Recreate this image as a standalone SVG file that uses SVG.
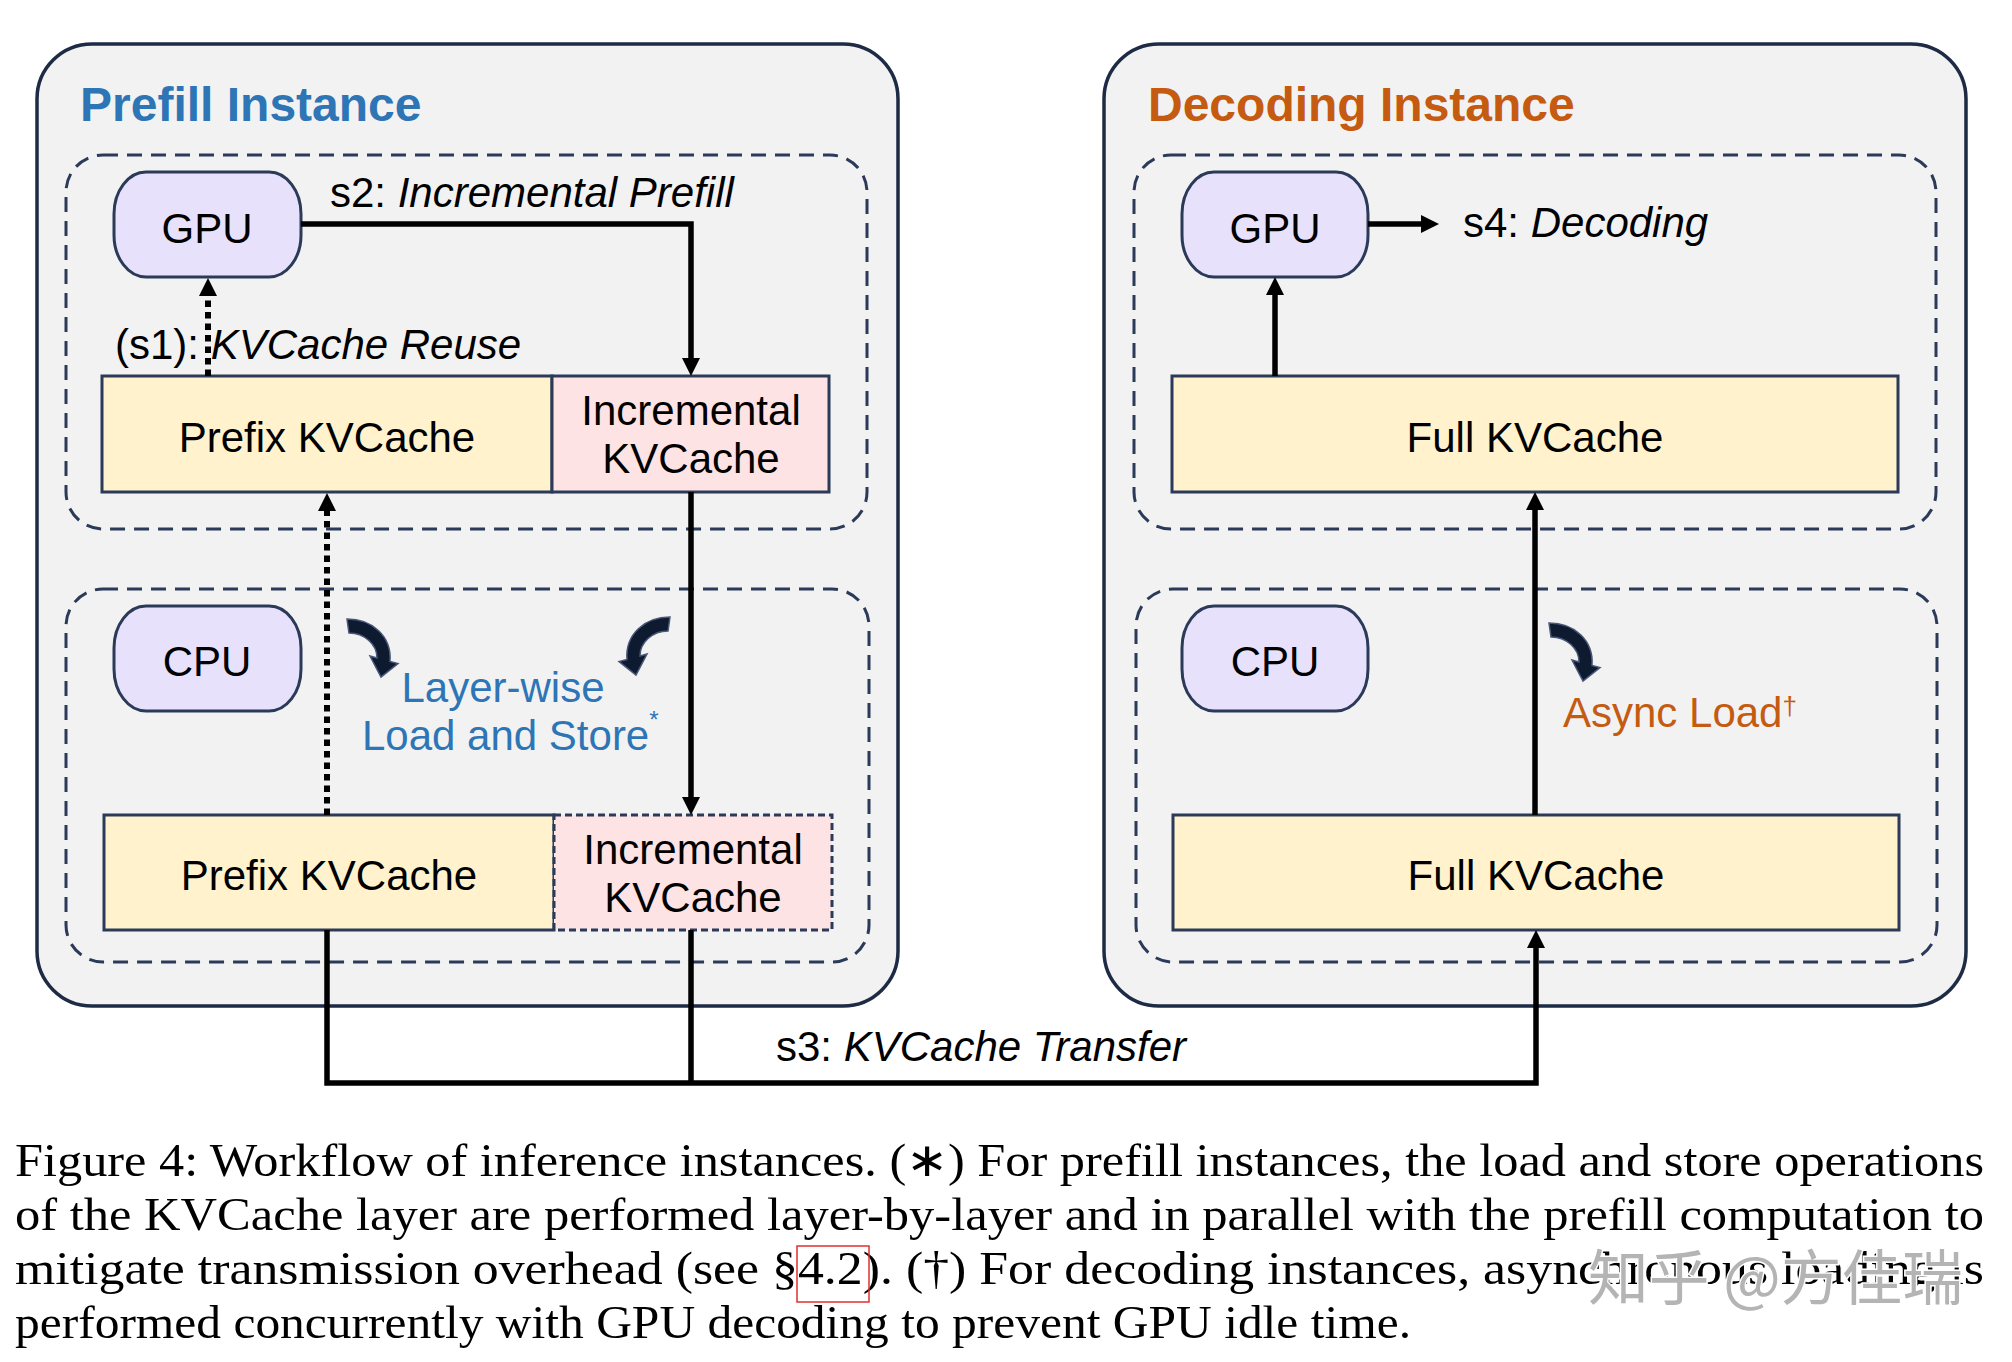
<svg xmlns="http://www.w3.org/2000/svg" width="2012" height="1362" viewBox="0 0 2012 1362">
<defs>
<style>
.outer{fill:#F2F2F2;stroke:#1E2B45;stroke-width:3.5}
.region{fill:none;stroke:#2A3A58;stroke-width:3;stroke-dasharray:15 9}
.proc{fill:#E8E1FB;stroke:#2B3A58;stroke-width:3}
.prefix{fill:#FFF2CC;stroke:#2B3A58;stroke-width:3}
.incr{fill:#FDE3E3;stroke:#2B3A58;stroke-width:3}
.incrd{fill:#FDE3E3;stroke:#2B3A58;stroke-width:3;stroke-dasharray:7 4}
.t{font-family:"Liberation Sans",Arial,sans-serif;font-size:42px;fill:#000}
.c{text-anchor:middle}
.it{font-style:italic}
.title{font-family:"Liberation Sans",Arial,sans-serif;font-size:48px;font-weight:bold}
.blue{fill:#2E75B6}
.orange{fill:#C55A11}
.solid{fill:none;stroke:#000;stroke-width:5.5;stroke-linejoin:miter}
.dot{fill:none;stroke:#000;stroke-width:6;stroke-dasharray:6.5 5}
.curve{fill:#0E1A30;stroke:#4A5878;stroke-width:1.5}
.cap{font-family:"Liberation Serif","Times New Roman",serif;font-size:47px;fill:#000}
</style>
<marker id="ah" markerUnits="userSpaceOnUse" markerWidth="20" markerHeight="20" refX="6" refY="9" orient="auto">
<path d="M0,0 L18,9 L0,18 z" fill="#000"/>
</marker>
<path id="carrow" d="M347,619 C372,619 392,636 390,661.5 L398,663.5 L381,677 L370,656 L377,658 C377,644 364,633 349,633 Z"/>
</defs>

<g id="prefill-instance">
<rect class="outer" x="37" y="44" width="861" height="962" rx="55" ry="55"/>
<text class="title blue" x="80" y="121">Prefill Instance</text>
</g>
<g id="decoding-instance">
<rect class="outer" x="1104" y="44" width="862" height="962" rx="55" ry="55"/>
<text class="title orange" x="1148" y="121">Decoding Instance</text>
</g>

<g id="prefill-gpu-region"><rect class="region" x="66" y="155" width="801" height="374" rx="37" ry="37"/></g>
<g id="prefill-cpu-region"><rect class="region" x="66" y="589" width="803" height="373" rx="37" ry="37"/></g>
<g id="decoding-gpu-region"><rect class="region" x="1134" y="155" width="802" height="374" rx="37" ry="37"/></g>
<g id="decoding-cpu-region"><rect class="region" x="1136" y="589" width="801" height="373" rx="37" ry="37"/></g>

<g id="prefill-gpu">
<rect class="proc" x="114" y="172" width="187" height="105" rx="32" ry="42"/>
<text class="t c" x="207" y="243">GPU</text>
</g>
<g id="prefill-cpu">
<rect class="proc" x="114" y="606" width="187" height="105" rx="32" ry="42"/>
<text class="t c" x="207" y="676">CPU</text>
</g>
<g id="decoding-gpu">
<rect class="proc" x="1182" y="172" width="186" height="105" rx="32" ry="42"/>
<text class="t c" x="1275" y="243">GPU</text>
</g>
<g id="decoding-cpu">
<rect class="proc" x="1182" y="606" width="186" height="105" rx="32" ry="42"/>
<text class="t c" x="1275" y="676">CPU</text>
</g>

<g id="gpu-prefix-kvcache">
<rect class="prefix" x="102" y="376" width="450" height="116"/>
<text class="t c" x="327" y="452">Prefix KVCache</text>
</g>
<g id="gpu-incremental-kvcache">
<rect class="incr" x="552" y="376" width="277" height="116"/>
<text class="t c" x="691" y="425">Incremental</text>
<text class="t c" x="691" y="473">KVCache</text>
</g>
<g id="cpu-prefix-kvcache">
<rect class="prefix" x="104" y="815" width="450" height="115"/>
<text class="t c" x="329" y="890">Prefix KVCache</text>
</g>
<g id="cpu-incremental-kvcache">
<rect class="incrd" x="554" y="815" width="278" height="115"/>
<text class="t c" x="693" y="864">Incremental</text>
<text class="t c" x="693" y="912">KVCache</text>
</g>
<g id="decoding-gpu-full-kvcache">
<rect class="prefix" x="1172" y="376" width="726" height="116"/>
<text class="t c" x="1535" y="452">Full KVCache</text>
</g>
<g id="decoding-cpu-full-kvcache">
<rect class="prefix" x="1173" y="815" width="726" height="115"/>
<text class="t c" x="1536" y="890">Full KVCache</text>
</g>

<g id="connectors">
<path class="solid" d="M301,224 H691 V364" marker-end="url(#ah)"/>
<path class="dot" d="M208,376 V290" marker-end="url(#ah)"/>
<path class="dot" d="M327,815 V505" marker-end="url(#ah)"/>
<path class="solid" d="M691,492 V803" marker-end="url(#ah)"/>
<path class="solid" d="M1368,224 H1427" marker-end="url(#ah)"/>
<path class="solid" d="M1275,376 V289" marker-end="url(#ah)"/>
<path class="solid" d="M1535,815 V504" marker-end="url(#ah)"/>
<path class="solid" d="M327,930 V1083 H1536 V942" marker-end="url(#ah)"/>
<path class="solid" d="M691,930 V1083"/>
<use href="#carrow" class="curve"/>
<use href="#carrow" class="curve" transform="translate(1017,-2) scale(-1,1)"/>
<use href="#carrow" class="curve" transform="translate(1202,4)"/>
</g>

<g id="labels">
<text class="t" x="330" y="207">s2: <tspan class="it">Incremental Prefill</tspan></text>
<text class="t" x="115" y="359">(s1): <tspan class="it">KVCache Reuse</tspan></text>
<text class="t" x="1463" y="237">s4: <tspan class="it">Decoding</tspan></text>
<text class="t" x="776" y="1061">s3: <tspan class="it">KVCache Transfer</tspan></text>
<text class="t c blue" x="503" y="702">Layer-wise</text>
<text class="t blue" x="362" y="750">Load and Store<tspan font-size="24" dy="-22">*</tspan></text>
<text class="t orange" x="1563" y="727">Async Load<tspan font-size="26" dy="-12">†</tspan></text>
</g>

<g id="caption">
<text class="cap" x="15" y="1176" textLength="1969" lengthAdjust="spacingAndGlyphs">Figure 4:  Workflow of inference instances. (∗) For prefill instances, the load and store operations</text>
<text class="cap" x="15" y="1230" textLength="1969" lengthAdjust="spacingAndGlyphs">of the KVCache layer are performed layer-by-layer and in parallel with the prefill computation to</text>
<text class="cap" x="15" y="1284" textLength="1969" lengthAdjust="spacingAndGlyphs">mitigate transmission overhead (see §4.2).  (†) For decoding instances, asynchronous loading is</text>
<text class="cap" x="15" y="1338" textLength="1396" lengthAdjust="spacingAndGlyphs">performed concurrently with GPU decoding to prevent GPU idle time.</text>
<rect x="797" y="1246" width="72" height="56" fill="none" stroke="#E03030" stroke-width="1.5"/>
<text x="1588" y="1300" textLength="375" lengthAdjust="spacingAndGlyphs" font-family="'Noto Sans CJK SC',sans-serif" font-size="60" fill="#B4B4B4" stroke="#FFFFFF" stroke-width="3" paint-order="stroke">知乎 @方佳瑞</text>
</g>
</svg>
